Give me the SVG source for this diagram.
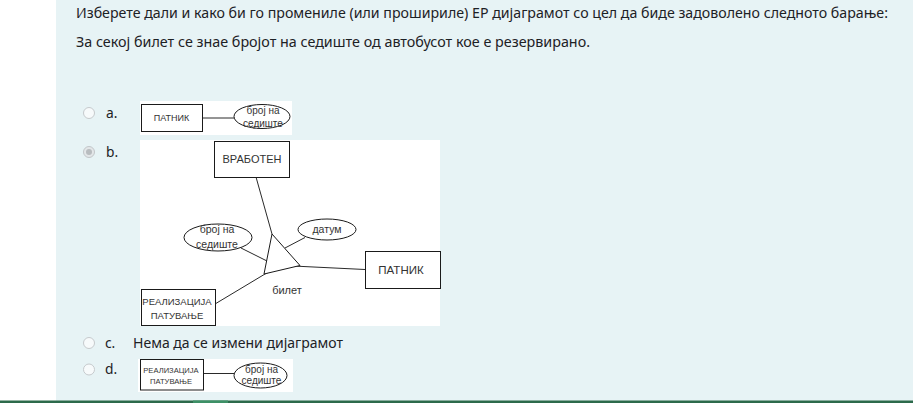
<svg xmlns="http://www.w3.org/2000/svg" width="913" height="403" viewBox="0 0 913 403">
<style>
.q{font-family:"Noto Sans","Open Sans","Liberation Sans",sans-serif;font-size:13.8px;fill:#1d2125}
.d{font-family:"Liberation Sans",Arial,sans-serif;fill:#333;text-anchor:middle}
.box{fill:#fff;stroke:#1a1a1a;stroke-width:1}
.ell{fill:#fff;stroke:#1a1a1a;stroke-width:1}
.ln{fill:none;stroke:#2a2a2a;stroke-width:1}
.radio{fill:#f7fafb;stroke:#c6cacd;stroke-width:1}
.pane{fill:#fff}
</style>
<rect x="0" y="0" width="913" height="403" fill="#ffffff"/>
<rect x="56" y="0" width="857" height="401" fill="#e7f3f5"/>
<rect x="0" y="400.5" width="913" height="2.5" fill="#2c6a4b"/>
<rect x="193" y="400.5" width="35" height="2.5" fill="#3d9066"/>

<g id="question">
<text class="q" x="76" y="18" textLength="812" lengthAdjust="spacingAndGlyphs">Изберете дали и како би го промениле (или прошириле) ЕР дијаграмот со цел да биде задоволено следното барање:</text>
<text class="q" x="76" y="47" textLength="514" lengthAdjust="spacingAndGlyphs">За секој билет се знае бројот на седиште од автобусот кое е резервирано.</text>
</g>

<g id="options">
<circle class="radio" cx="89" cy="113" r="5.5"/>
<text class="q" x="106" y="117.5">a.</text>
<circle cx="89" cy="152" r="5.5" fill="#e3e6e8" stroke="#c2c6c9"/>
<circle cx="89" cy="152" r="3" fill="#b8bcbf"/>
<text class="q" x="106" y="157">b.</text>
<circle class="radio" cx="89" cy="343" r="5.5"/>
<text class="q" x="105" y="348">c.</text>
<text class="q" x="133" y="348" textLength="210" lengthAdjust="spacingAndGlyphs">Нема да се измени дијаграмот</text>
<circle class="radio" cx="89" cy="369.5" r="5.5"/>
<text class="q" x="105" y="374">d.</text>
</g>

<!-- option a -->
<rect class="pane" x="140" y="101" width="152" height="34"/>
<g id="a-connectors">
<line class="ln" x1="202" y1="118" x2="234" y2="118"/>
</g>
<g id="a-patnik">
<rect class="box" x="141.5" y="104.5" width="61" height="27"/>
<text class="d" x="171.5" y="120.5" font-size="9">ПАТНИК</text>
</g>
<g id="a-broj">
<ellipse class="ell" cx="262" cy="116.5" rx="28" ry="12"/>
<text class="d" x="263" y="113.5" font-size="10">број на</text>
<text class="d" x="263" y="126.5" font-size="10">седиште</text>
</g>

<!-- option b -->
<rect class="pane" x="140" y="140" width="300" height="186"/>
<g id="b-connectors">
<line class="ln" x1="256" y1="177" x2="272" y2="234"/>
<line class="ln" x1="241" y1="248" x2="267" y2="261"/>
<line class="ln" x1="305" y1="237.5" x2="285" y2="248"/>
<path class="ln" d="M215,304 L265,274 Q276,268 293,266 L365,269.5"/>
</g>
<g id="b-vraboten">
<rect class="box" x="214.5" y="141.5" width="75" height="36"/>
<text class="d" x="252" y="162.5" font-size="11">ВРАБОТЕН</text>
</g>
<g id="b-patnik">
<rect class="box" x="365.5" y="251.5" width="75" height="37"/>
<text class="d" x="401" y="273.5" font-size="11.5">ПАТНИК</text>
</g>
<g id="b-realizacija">
<rect class="box" x="141.5" y="289.5" width="74" height="36"/>
<text class="d" x="177" y="305" font-size="9.5">РЕАЛИЗАЦИЈА</text>
<text class="d" x="177" y="318.5" font-size="9.5">ПАТУВАЊЕ</text>
</g>
<g id="b-broj">
<ellipse class="ell" cx="218" cy="237.5" rx="34" ry="13.5"/>
<text class="d" x="217" y="232.5" font-size="10.5">број на</text>
<text class="d" x="217" y="248" font-size="10.5">седиште</text>
</g>
<g id="b-datum">
<ellipse class="ell" cx="327" cy="229.5" rx="29" ry="10.5"/>
<text class="d" x="327" y="233" font-size="10.5">датум</text>
</g>
<g id="b-bilet">
<polygon class="box" points="272,234 264,274 300,265.5"/>
<text class="d" x="287" y="294" font-size="11">билет</text>
</g>

<!-- option d -->
<rect class="pane" x="138" y="359" width="155" height="33"/>
<g id="d-connectors">
<line class="ln" x1="203" y1="373.5" x2="234" y2="373.5"/>
</g>
<g id="d-realizacija">
<rect class="box" x="140.5" y="359.5" width="63" height="30.5"/>
<text class="d" x="171" y="373" font-size="7.6">РЕАЛИЗАЦИЈА</text>
<text class="d" x="171" y="384" font-size="7.6">ПАТУВАЊЕ</text>
</g>
<g id="d-broj">
<ellipse class="ell" cx="260.5" cy="375.5" rx="26.5" ry="12.5"/>
<text class="d" x="261.5" y="372.5" font-size="10">број на</text>
<text class="d" x="261.5" y="384" font-size="10">седиште</text>
</g>
</svg>
